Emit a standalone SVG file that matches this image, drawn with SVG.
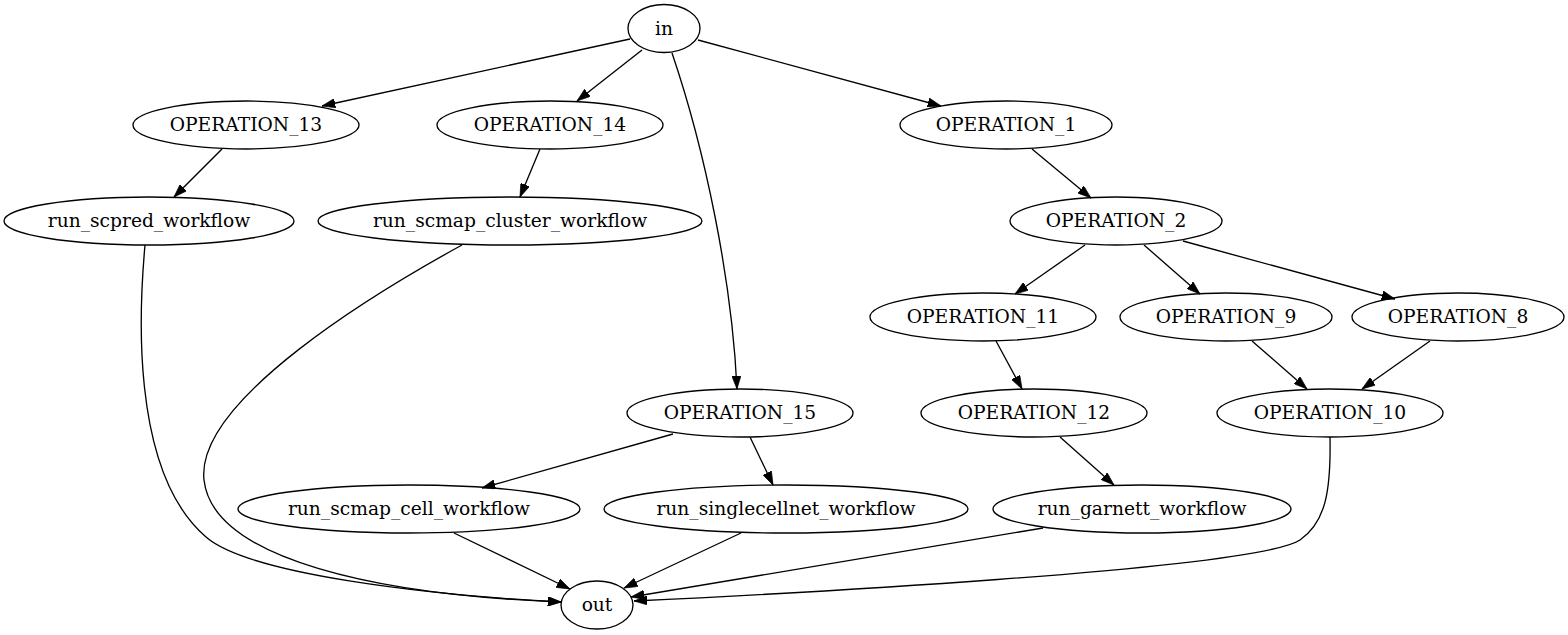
<svg xmlns="http://www.w3.org/2000/svg" width="1568" height="635" viewBox="0 0 1568 635">
<style>
.node ellipse{fill:none;stroke:#000;stroke-width:1.33}
.node text{font-family:"DejaVu Serif","Liberation Serif",serif;font-size:18.67px;text-anchor:middle;fill:#000}
.edges path{fill:none;stroke:#000;stroke-width:1.33;marker-end:url(#arr)}
</style>
<defs>
<marker id="arr" viewBox="0 0 10 7" refX="10" refY="3.5" markerWidth="10" markerHeight="7" orient="auto" markerUnits="strokeWidth">
<path d="M0,0 L10,3.5 L0,7 z" fill="#000" stroke="#000" stroke-width="0.5"/>
</marker>
</defs>
<rect width="1568" height="635" fill="#fff"/>
<g class="edges">
<path d="M630,39 L322,106"/>
<path d="M642,50 L577,101"/>
<path d="M672,53 C705,150 732,280 737,389"/>
<path d="M698,40 L941,106"/>
<path d="M222,149 L174,197"/>
<path d="M540,149 L520,197"/>
<path d="M1032,149 L1091,198"/>
<path d="M1085,245 L1015,294"/>
<path d="M1144,245 L1200,294"/>
<path d="M1183,241 L1395,299"/>
<path d="M996,341 L1022,389"/>
<path d="M1252,341 L1307,389"/>
<path d="M1430,341 L1362,389"/>
<path d="M673,434 L482,488"/>
<path d="M750,437 L773,485"/>
<path d="M1060,437 L1114,485"/>
<path d="M1330,437 C1331,490 1326,522 1300,540 C1255,570 760,595 634,601"/>
<path d="M1043,528 L631,597"/>
<path d="M741,533 L624,588"/>
<path d="M454,533 L570,589"/>
<path d="M145,245 C140,300 128,470 206,537 C250,575 430,595 561,602"/>
<path d="M462,245 C380,290 195,400 204,480 C213,560 380,595 561,602"/>
</g>
<g id="in" class="node"><ellipse cx="664" cy="28.5" rx="36" ry="24"/><text x="664" y="34.5">in</text></g>
<g id="OPERATION_13" class="node"><ellipse cx="246" cy="125" rx="113" ry="24"/><text x="246" y="131">OPERATION_13</text></g>
<g id="OPERATION_14" class="node"><ellipse cx="550" cy="125" rx="113" ry="24"/><text x="550" y="131">OPERATION_14</text></g>
<g id="OPERATION_1" class="node"><ellipse cx="1006" cy="125" rx="106" ry="24"/><text x="1006" y="131">OPERATION_1</text></g>
<g id="run_scpred_workflow" class="node"><ellipse cx="149" cy="221" rx="145" ry="24"/><text x="149" y="227">run_scpred_workflow</text></g>
<g id="run_scmap_cluster_workflow" class="node"><ellipse cx="510" cy="221" rx="192" ry="24"/><text x="510" y="227">run_scmap_cluster_workflow</text></g>
<g id="OPERATION_2" class="node"><ellipse cx="1116" cy="221" rx="106" ry="24"/><text x="1116" y="227">OPERATION_2</text></g>
<g id="OPERATION_11" class="node"><ellipse cx="983" cy="317" rx="113" ry="24"/><text x="983" y="323">OPERATION_11</text></g>
<g id="OPERATION_9" class="node"><ellipse cx="1226" cy="317" rx="106" ry="24"/><text x="1226" y="323">OPERATION_9</text></g>
<g id="OPERATION_8" class="node"><ellipse cx="1458" cy="317" rx="106" ry="24"/><text x="1458" y="323">OPERATION_8</text></g>
<g id="OPERATION_15" class="node"><ellipse cx="740" cy="413" rx="113" ry="24"/><text x="740" y="419">OPERATION_15</text></g>
<g id="OPERATION_12" class="node"><ellipse cx="1034" cy="413" rx="113" ry="24"/><text x="1034" y="419">OPERATION_12</text></g>
<g id="OPERATION_10" class="node"><ellipse cx="1330" cy="413" rx="113" ry="24"/><text x="1330" y="419">OPERATION_10</text></g>
<g id="run_scmap_cell_workflow" class="node"><ellipse cx="409" cy="509" rx="171" ry="24"/><text x="409" y="515">run_scmap_cell_workflow</text></g>
<g id="run_singlecellnet_workflow" class="node"><ellipse cx="786" cy="509" rx="182" ry="24"/><text x="786" y="515">run_singlecellnet_workflow</text></g>
<g id="run_garnett_workflow" class="node"><ellipse cx="1142" cy="509" rx="149" ry="24"/><text x="1142" y="515">run_garnett_workflow</text></g>
<g id="out" class="node"><ellipse cx="597" cy="605" rx="36" ry="24"/><text x="597" y="611">out</text></g>
</svg>
